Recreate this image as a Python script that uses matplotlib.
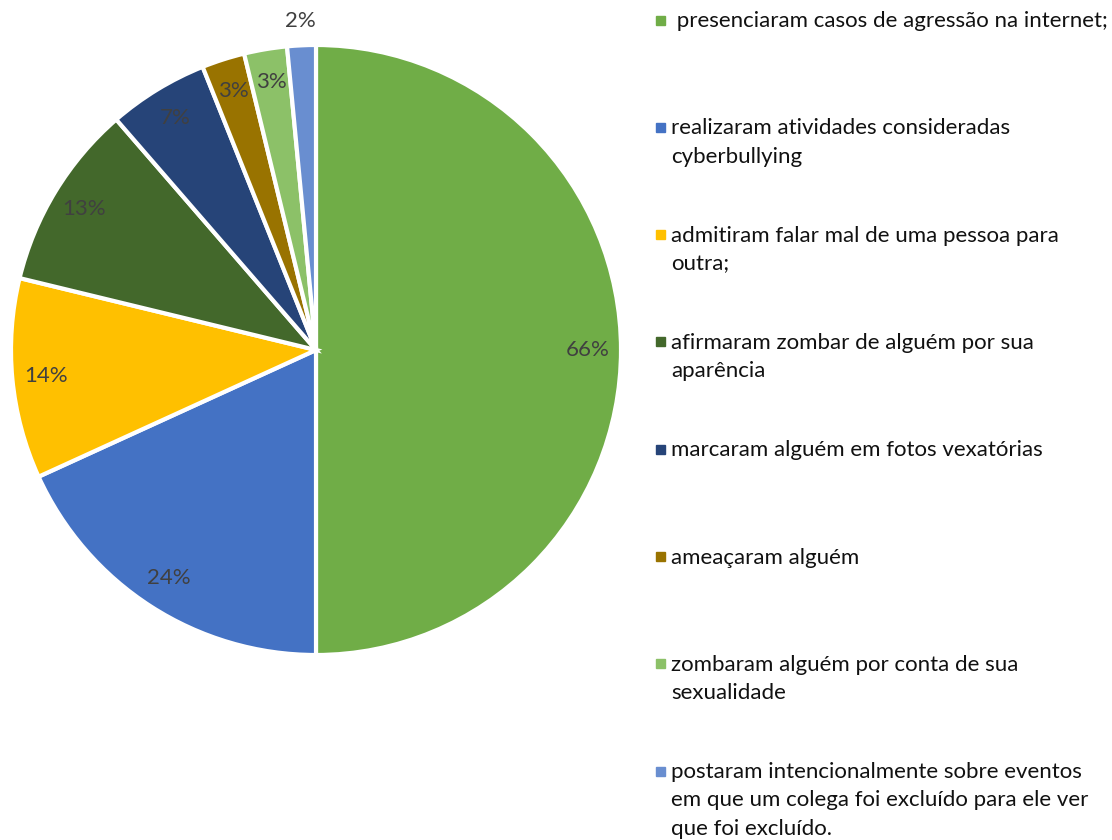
import numpy as np
import matplotlib
matplotlib.use("Agg")
import matplotlib.pyplot as plt

plt.rcParams["font.family"] = ["Lato", "DejaVu Sans"]

categories = [
    " presenciaram casos de agressão na internet;",
    "realizaram atividades consideradas\ncyberbullying",
    "admitiram falar mal de uma pessoa para\noutra;",
    "afirmaram zombar de alguém por sua\naparência",
    "marcaram alguém em fotos vexatórias",
    "ameaçaram alguém",
    "zombaram alguém por conta de sua\nsexualidade",
    "postaram intencionalmente sobre eventos\nem que um colega foi excluído para ele ver\nque foi excluído.",
]
values = [66, 24, 14, 13, 7, 3, 3, 2]
value_labels = ["66%", "24%", "14%", "13%", "7%", "3%", "3%", "2%"]
colors = ["#70AD47", "#4472C4", "#FFC000", "#43682B",
          "#264478", "#997300", "#8CC168", "#698ED0"]

W, H = 1112, 840
fig = plt.figure(figsize=(W / 100, H / 100), dpi=100)

# pie area: center (316, 350) px, radius 305 px
cx, cy, r = 316, 350, 305
ax = fig.add_axes([(cx - r) / W, (H - cy - r) / H, 2 * r / W, 2 * r / H])
wedges, _ = ax.pie(values, colors=colors, startangle=90, counterclock=False,
                   radius=1.0, wedgeprops=dict(edgecolor="white", linewidth=3))
ax.set_xlim(-1, 1)
ax.set_ylim(-1, 1)
ax.set_aspect("equal")
ax.axis("off")

for w, lab in zip(wedges, value_labels):
    ang = np.deg2rad((w.theta1 + w.theta2) / 2)
    dist = 0.89 if lab != "2%" else 1.08
    ax.text(dist * np.cos(ang), dist * np.sin(ang), lab, ha="center", va="center",
            fontsize=16, color="#404040", clip_on=False)

# legend drawn as equal slots, top aligned
slot_top = 22
slot_h = 107.3
for i, (lab, c) in enumerate(zip(categories, colors)):
    y = slot_top + i * slot_h
    fig.patches.append(plt.Rectangle((656 / W, 1 - (y + 2.5) / H), 9 / W, 9 / H,
                                     transform=fig.transFigure, color=c))
    fig.text(671 / W, 1 - (y - 11) / H, lab, ha="left", va="top", fontsize=16,
             color="#111111", linespacing=1.52)

fig.savefig("out.png", dpi=100)
